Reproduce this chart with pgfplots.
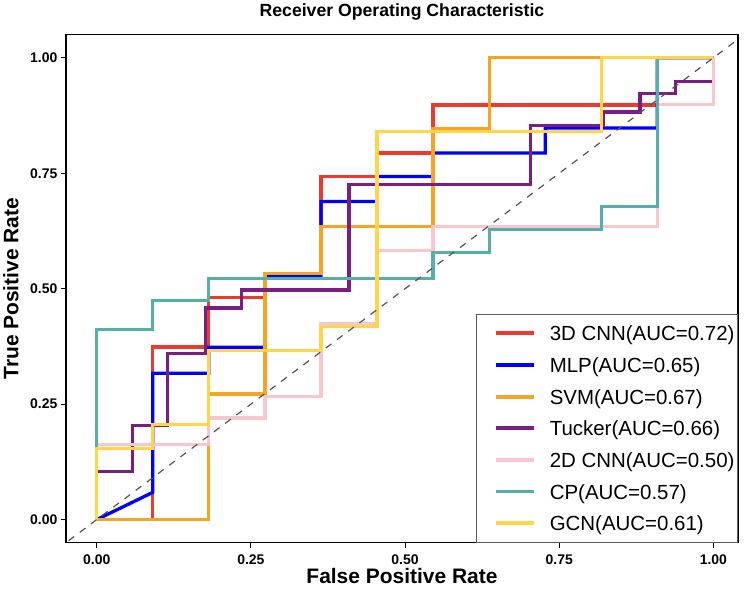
\documentclass[border=0pt]{standalone}
\usepackage{pgfplots}
\pgfplotsset{compat=1.18}
\usepackage{fontspec}
\setmainfont{Liberation Sans}
\definecolor{cRed}{RGB}{236,58,46}
\definecolor{cBlue}{RGB}{0,0,255}
\definecolor{cOrange}{RGB}{245,165,35}
\definecolor{cPurple}{RGB}{122,30,132}
\definecolor{cPink}{RGB}{248,198,205}
\definecolor{cTeal}{RGB}{84,176,168}
\definecolor{cYellow}{RGB}{255,214,72}
\definecolor{cDiag}{RGB}{85,85,85}
\definecolor{cFrame}{RGB}{90,90,90}

\begin{document}
\begin{tikzpicture}
\begin{axis}[
  scale only axis, width=673.5bp, height=509bp,
  xmin=-0.05, xmax=1.04, ymin=-0.05, ymax=1.05,
  xtick={0,0.25,0.5,0.75,1}, ytick={0,0.25,0.5,0.75,1},
  tick align=outside, xtick pos=left, ytick pos=left,
  major tick length=5bp,
  tick style={black, line width=1bp},
  axis line style={black, line width=1.3bp},
  /pgf/number format/fixed, /pgf/number format/fixed zerofill,
  /pgf/number format/precision=2, /pgf/number format/assume math mode=true,
  tick label style={font=\fontsize{14bp}{16bp}\selectfont\bfseries},
  xticklabel style={yshift=-4bp},
  title={Receiver Operating Characteristic},
  title style={at={(axis description cs:0.5,1.02495)}, anchor=base, font=\fontsize{17.7bp}{20bp}\selectfont\bfseries},
  xlabel={False Positive Rate},
  xlabel style={at={(axis description cs:0.5,-0.08114)}, anchor=base, font=\fontsize{21bp}{24bp}\selectfont\bfseries},
  ylabel={True Positive Rate},
  ylabel style={at={(axis description cs:-0.07053,0.5)}, anchor=base, font=\fontsize{21bp}{24bp}\selectfont\bfseries},
  no markers,
  legend cell align=left,
  legend style={at={(rel axis cs:1,0)}, anchor=south east, draw=cFrame, line width=1bp, fill=white,
    inner xsep=3bp, inner ysep=9bp, row sep=11.5bp, column sep=14.3bp,
    font=\fontsize{20.5bp}{24bp}\selectfont,
    nodes={inner sep=0pt, text height=17.7bp, text depth=2.5bp}},
  legend image code/.code={\path (0bp,0bp); \draw[#1, line width=4bp, line cap=butt] (14.6bp,0bp) -- (52bp,0bp);},
]
\addplot[cRed, line width=3.3bp] coordinates {(0,0) (0.0909,0) (0.0909,0.374) (0.1818,0.374) (0.1818,0.481) (0.2727,0.481) (0.2727,0.533) (0.3636,0.533) (0.3636,0.743) (0.4545,0.743) (0.4545,0.794) (0.5455,0.794) (0.5455,0.898) (0.9091,0.898) (0.9091,1) (1,1)};
\addlegendentry{3D CNN(AUC=0.72)}
\addplot[cBlue, line width=3.3bp] coordinates {(0,0) (0.0909,0.059) (0.0909,0.317) (0.1818,0.317) (0.1818,0.373) (0.2727,0.373) (0.2727,0.529) (0.3636,0.529) (0.3636,0.689) (0.4545,0.689) (0.4545,0.743) (0.5455,0.743) (0.5455,0.794) (0.7273,0.794) (0.7273,0.848) (0.9091,0.848) (0.9091,1) (1,1)};
\addlegendentry{MLP(AUC=0.65)}
\addplot[cOrange, line width=3.3bp] coordinates {(0,0) (0.1818,0) (0.1818,0.272) (0.2727,0.272) (0.2727,0.533) (0.3636,0.533) (0.3636,0.635) (0.5455,0.635) (0.5455,0.846) (0.6364,0.846) (0.6364,1) (1,1)};
\addlegendentry{SVM(AUC=0.67)}
\addplot[cPurple, line width=3.3bp] coordinates {(0,0) (0,0.104) (0.058,0.104) (0.058,0.204) (0.115,0.204) (0.115,0.359) (0.176,0.359) (0.176,0.458) (0.235,0.458) (0.235,0.497) (0.409,0.497) (0.409,0.726) (0.703,0.726) (0.703,0.854) (0.822,0.854) (0.822,0.883) (0.881,0.883) (0.881,0.922) (0.939,0.922) (0.939,0.948) (1,0.948)};
\addlegendentry{Tucker(AUC=0.66)}
\addplot[cPink, line width=3.3bp] coordinates {(0,0) (0,0.163) (0.1818,0.163) (0.1818,0.22) (0.2727,0.22) (0.2727,0.266) (0.3636,0.266) (0.3636,0.425) (0.4545,0.425) (0.4545,0.583) (0.5455,0.583) (0.5455,0.635) (0.9091,0.635) (0.9091,0.899) (1,0.899) (1,1)};
\addlegendentry{2D CNN(AUC=0.50)}
\addplot[cTeal, line width=3.3bp] coordinates {(0,0) (0,0.412) (0.0909,0.412) (0.0909,0.474) (0.1818,0.474) (0.1818,0.522) (0.5455,0.522) (0.5455,0.578) (0.6364,0.578) (0.6364,0.629) (0.8182,0.629) (0.8182,0.678) (0.9091,0.678) (0.9091,1) (1,1)};
\addlegendentry{CP(AUC=0.57)}
\addplot[cYellow, line width=3.3bp] coordinates {(0,0) (0,0.154) (0.0909,0.154) (0.0909,0.206) (0.1818,0.206) (0.1818,0.366) (0.3636,0.366) (0.3636,0.418) (0.4545,0.418) (0.4545,0.841) (0.8182,0.841) (0.8182,1) (1,1)};
\addlegendentry{GCN(AUC=0.61)}
\addplot[cDiag, line width=1.2bp, dash pattern=on 7bp off 7bp, forget plot] coordinates {(-0.1,-0.1) (1.1,1.1)};
\end{axis}
\path ([shift={(-64.5bp,-47.3bp)}]current axis.south west) rectangle ([shift={(6bp,32.7bp)}]current axis.north east);
\end{tikzpicture}
\end{document}
